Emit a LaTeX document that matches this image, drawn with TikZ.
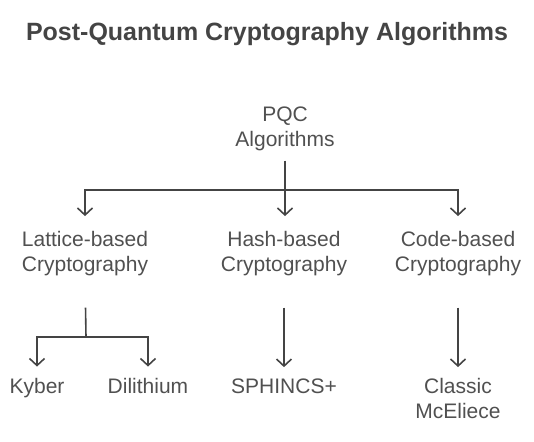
\documentclass[tikz,border=0pt]{standalone}
\usepackage{fontspec}
\setmainfont{Liberation Sans}
\usetikzlibrary{arrows.meta}

\definecolor{inkgray}{HTML}{444444}
\definecolor{textgray}{HTML}{505050}
\tikzset{
  label/.style={align=center, inner sep=0pt, anchor=base, text=textgray,
    font=\fontsize{21}{24.5}\selectfont},
  branch/.style={draw=inkgray, line width=1.6pt},
  arr/.style={branch, -{Straight Barb[length=7pt,width=15pt,line width=1.6pt]}},
}

\begin{document}
\begin{tikzpicture}[x=1pt, y=-1pt]
    \useasboundingbox (0,0) rectangle (534,441);

    % title
    \node[anchor=base, text=inkgray, font=\fontsize{25}{28}\bfseries\selectfont] (title) at (267,41) {Post-Quantum Cryptography Algorithms};

    % root and the three families (base = last line)
    \node[label] (pqc) at (285,146) {PQC\\Algorithms};
    \node[label] (lattice) at (85,271) {Lattice-based\\Cryptography};
    \node[label] (hash) at (284,271) {Hash-based\\Cryptography};
    \node[label] (code) at (458,271) {Code-based\\Cryptography};

    % algorithms
    \node[label] (kyber) at (37,393) {Kyber};
    \node[label] (dilithium) at (148,393) {Dilithium};
    \node[label] (sphincs) at (284,393) {SPHINCS+};
    \node[label] (classic) at (458,418) {Classic\\McEliece};

    % joints
    \coordinate (rootsplit) at (285,190);
    \coordinate (latsplit) at (86,337);

    \draw[branch, shorten <=10pt] (pqc.south) -- (pqc.south |- rootsplit);
    \draw[arr, shorten >=15pt] (rootsplit) -- (rootsplit |- hash.north);
    \draw[arr, shorten >=15pt] (rootsplit) -| (lattice.north);
    \draw[arr, shorten >=15pt] (rootsplit) -| (code.north);

    \draw[branch, shorten <=32pt] (lattice.south) -- (latsplit);
    \draw[arr, shorten >=11pt] (latsplit) -| (kyber.north);
    \draw[arr, shorten >=11pt] (latsplit) -| (dilithium.north);

    \draw[arr, shorten <=32pt, shorten >=11pt] (hash.south) -- (sphincs.north);
    \draw[arr, shorten <=32pt, shorten >=11pt] (code.south) -- (classic.north);
\end{tikzpicture}
\end{document}
